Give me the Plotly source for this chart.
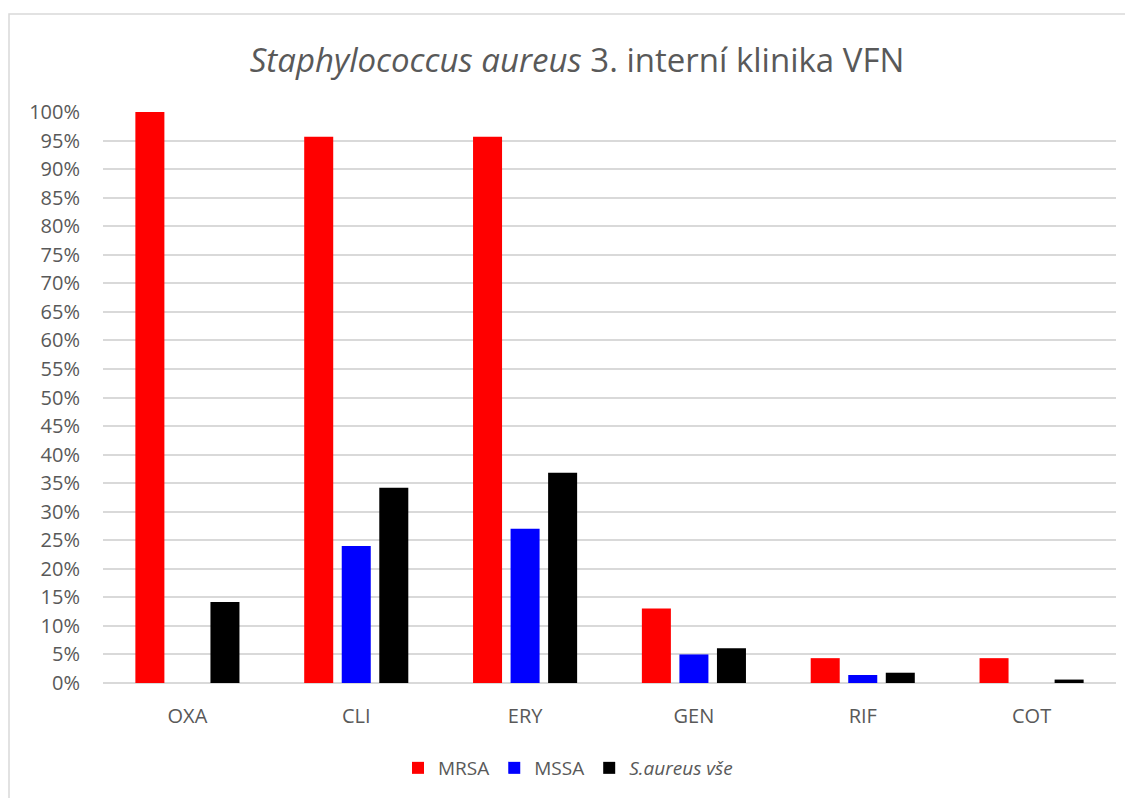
import plotly.graph_objects as go

categories = ["OXA", "CLI", "ERY", "GEN", "RIF", "COT"]
mrsa = [1.0, 0.9565, 0.9565, 0.1304, 0.0435, 0.0435]
mssa = [0.0, 0.240, 0.270, 0.050, 0.014, 0.0]
vse = [0.142, 0.342, 0.368, 0.061, 0.018, 0.006]
series_names = ["MRSA", "MSSA", "<i>S.aureus vše</i>"]
series_colors = ["#FF0000", "#0000FF", "#000000"]
tick_vals = [i / 100 for i in range(0, 101, 5)]
tick_text = [f"{i}%" for i in range(0, 101, 5)]

W, H = 1133, 798
ml, mr, mt, mb = 95, 25, 104, 123
font_family = "Open Sans, Liberation Sans, sans-serif"
grey = "#595959"

fig = go.Figure()
for name, vals, col in zip(series_names, [mrsa, mssa, vse], series_colors):
    fig.add_trace(go.Bar(x=categories, y=vals, name=name, marker=dict(color=col, line=dict(width=0))))

pw = W - ml - mr
ph = H - mt - mb
def px_x(p):
    return (p - ml) / pw
def px_y(p):
    return (H - mb - p) / ph

fig.update_layout(
    width=W, height=H,
    margin=dict(l=ml, r=mr, t=mt, b=mb),
    paper_bgcolor="white", plot_bgcolor="white",
    barmode="group", bargap=0.333, bargroupgap=0.227,
    font=dict(family=font_family, color=grey, size=20),
    title=dict(
        text="<i>Staphylococcus aureus</i> 3. interní klinika VFN",
        x=569 / W, xref="container", xanchor="center", y=1 - 52 / H, yref="container", yanchor="middle",
        font=dict(size=33, color=grey, family=font_family),
    ),
    xaxis=dict(showgrid=False, showline=False, ticks="", tickfont=dict(size=20, color=grey), ticklabelstandoff=19),
    yaxis=dict(range=[0, 1.0], tickvals=tick_vals, ticktext=tick_text, showgrid=True,
               gridcolor="#D9D9D9", gridwidth=1.5, zeroline=True, zerolinecolor="#D9D9D9", zerolinewidth=1.5,
               showline=False, ticks="", tickfont=dict(size=20, color=grey), ticklabelstandoff=22),
    legend=dict(orientation="h", x=px_x(390), xanchor="left", y=px_y(760), yanchor="middle",
                font=dict(size=19, color=grey), itemwidth=30, traceorder="normal"),
    showlegend=True,
    shapes=[dict(type="rect", xref="paper", yref="paper",
                 x0=px_x(1), x1=px_x(1140), y0=px_y(805), y1=px_y(6),
                 line=dict(color="#D9D9D9", width=1.5), fillcolor="rgba(0,0,0,0)", layer="below")],
)
fig.write_html("out.html")
